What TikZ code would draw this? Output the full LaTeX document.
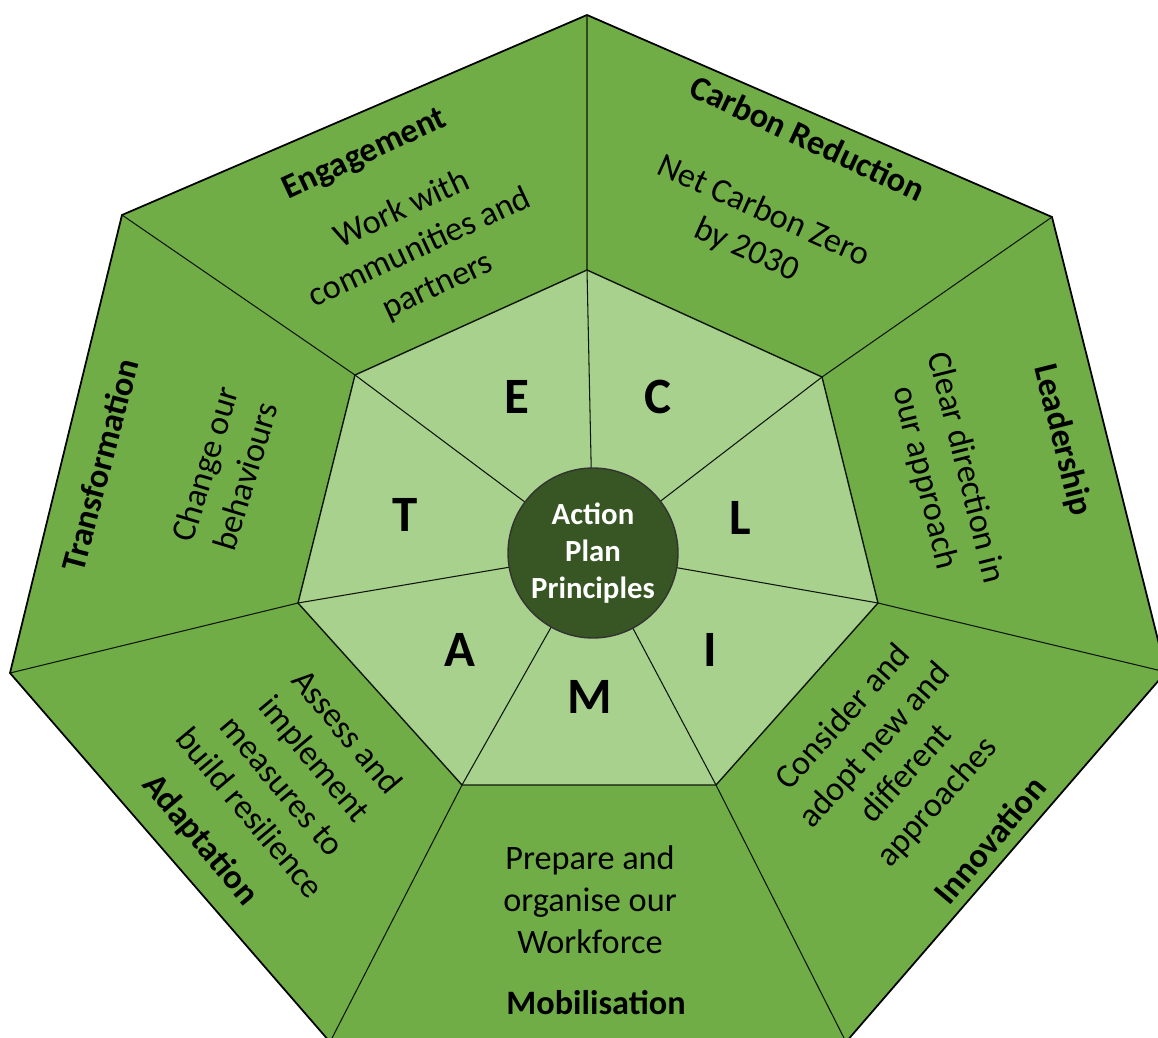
\documentclass[tikz,border=0pt]{standalone}
\usepackage{fontspec}
\setmainfont{Carlito}
\usetikzlibrary{positioning}
\definecolor{outergreen}{RGB}{112,173,71}
\definecolor{innergreen}{RGB}{169,209,142}
\definecolor{hubgreen}{RGB}{55,86,35}

\tikzset{
  title/.style={font=\fontsize{19.5}{24}\selectfont\bfseries, inner sep=0pt},
  desc/.style={font=\fontsize{19.5}{24}\selectfont, align=center, inner sep=0pt},
  letter/.style={font=\fontsize{29}{35}\selectfont\bfseries, inner sep=0pt},
  spoke/.style={draw=black!75!hubgreen, line width=0.6pt},
}

\begin{document}
\begin{tikzpicture}[x=0.02cm,y=-0.02cm]
\useasboundingbox (0,0) rectangle (1158,1037);

% Corners
\coordinate (c) at (593,553);
\coordinate (o0) at (587,15);
\coordinate (o1) at (1052,217);
\coordinate (o2) at (1166,672);
\coordinate (o3) at (846,1042);
\coordinate (o4) at (330,1042);
\coordinate (o5) at (10,673);
\coordinate (o6) at (122,215);
\coordinate (i0) at (587,270);
\coordinate (i1) at (822,377);
\coordinate (i2) at (878,603);
\coordinate (i3) at (716,785);
\coordinate (i4) at (462,785);
\coordinate (i5) at (298,603);
\coordinate (i6) at (355,375);

% Outer ring
\fill[outergreen] (o0) -- (o1) -- (o2) -- (o3) -- (o4) -- (o5) -- (o6) -- cycle;
\draw[line width=1pt] (o0) -- (o1) -- (o2) -- (o3) -- (o4) -- (o5) -- (o6) -- cycle;

% Inner ring
\filldraw[fill=innergreen, draw=black!75!hubgreen, line width=0.8pt]
  (i0) -- (i1) -- (i2) -- (i3) -- (i4) -- (i5) -- (i6) -- cycle;

% Spokes
\foreach \k in {0,...,6}
  \draw[spoke] (c) -- (i\k) -- (o\k);

% Hub
\node[circle, fill=hubgreen, draw=black!80, line width=0.8pt, minimum size=3.4cm,
  inner sep=0pt, align=center, text=white,
  font=\fontsize{17.5}{21}\selectfont\bfseries] (hub) at (c) {Action\\Plan\\Principles};

% Letters
\node[letter] (lE) at (517,397) {E};
\node[letter] (lC) at (658,397) {C};
\node[letter] (lL) at (740,518) {L};
\node[letter] (lI) at (710,650) {I};
\node[letter] (lM) at (590,697) {M};
\node[letter] (lA) at (460,650) {A};
\node[letter] (lT) at (405,515) {T};

% Segment texts
\node[title, rotate=-25] (carbon) at (808,138) {Carbon Reduction};
\node[desc, rotate=-24] (carbondesc) at (755,231) {Net Carbon Zero\\by 2030};

\node[title, rotate=25] (engage) at (365,155) {Engagement};
\node[desc, rotate=25] (engagedesc) at (420,248) {Work with\\communities and\\partners};

\node[title, rotate=-76] (lead) at (1062,440) {Leadership};
\node[desc, rotate=-76] (leaddesc) at (945,473) {Clear direction in\\our approach};

\node[title, rotate=75] (trans) at (100,465) {Transformation};
\node[desc, rotate=73] (transdesc) at (225,470) {Change our\\behaviours};

\node[title, rotate=-50] (adapt) at (200,840) {Adaptation};
\node[desc, rotate=-50] (adaptdesc) at (299,772) {Assess and\\implement\\measures to\\build resilience};

\node[title, rotate=50] (innov) at (990,840) {Innovation};
\node[desc, rotate=48] (innovdesc) at (891,760) {Consider and\\adopt new and\\different\\approaches};

\node[title] (mobil) at (596,1003) {Mobilisation};
\node[desc] (mobildesc) at (590,900) {Prepare and\\organise our\\Workforce};
\end{tikzpicture}
\end{document}
